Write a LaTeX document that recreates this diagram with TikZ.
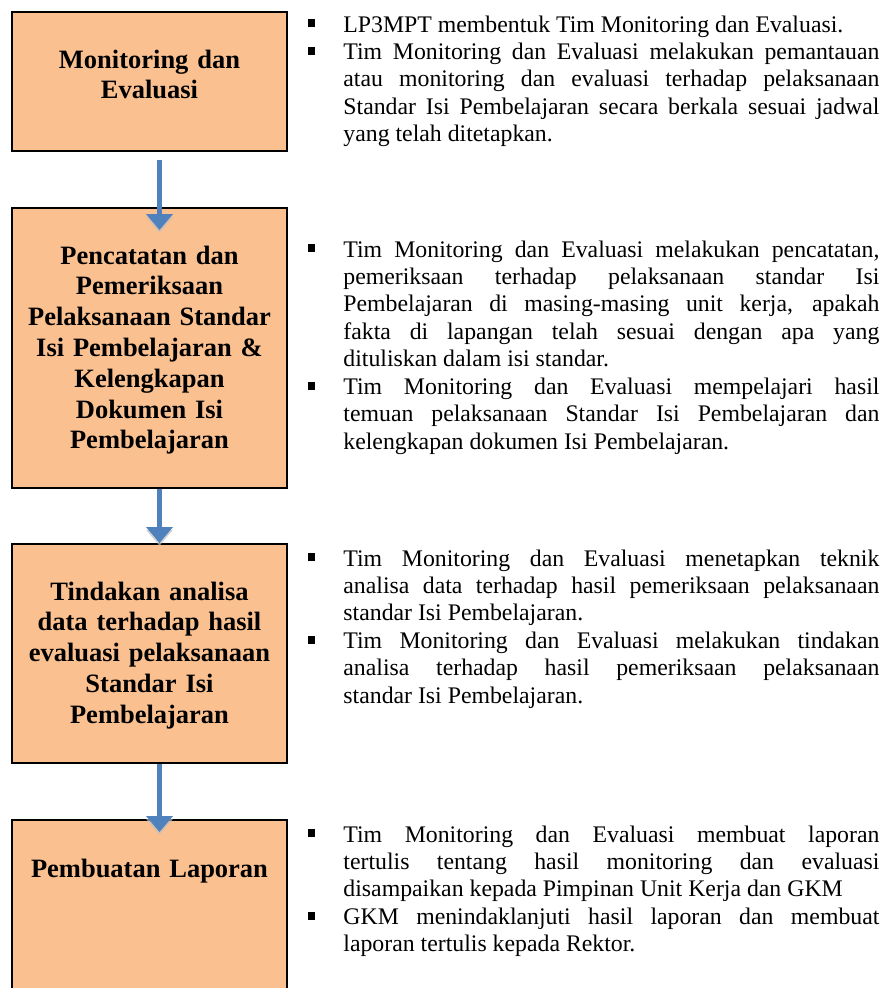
\documentclass[tikz,border=0pt]{standalone}
\usepackage{fontspec}
\setmainfont{Liberation Serif}
\usetikzlibrary{arrows.meta}
\definecolor{boxfill}{HTML}{FAC090}
\definecolor{arrowblue}{HTML}{4F81BD}
\newcommand\pxu{0.4625pt}
\newcommand\blt{\leavevmode\llap{\raise2.2pt\hbox{\vrule width3.6pt height3.6pt depth0pt}\hskip13pt\relax}}
\tikzset{
  stepbox/.style={draw, line width=1pt, fill=boxfill, minimum width=275*\pxu, inner sep=0pt, anchor=north},
  boxtext/.style={anchor=base, inner sep=0pt, text width=275*\pxu, font=\fontsize{12.25}{14.25}\selectfont\bfseries,
    execute at begin node={\centering}},
  desc/.style={anchor=base west, inner sep=0pt, text width=536*\pxu, align=justify,
    font=\fontsize{11}{12.7}\selectfont,
    execute at begin node={\hyphenpenalty=10000\relax\exhyphenpenalty=10000\relax\tolerance=10000\relax}},
  flow/.style={arrowblue, line width=5.5*\pxu, -{Triangle[width=12pt,length=7.4pt]}},
  flowshadow/.style={flow, draw=gray!50, opacity=0.7, transform canvas={yshift=-1.3pt}}
}
\begin{document}
\begin{tikzpicture}[x=\pxu, y=-\pxu]
	\clip (0,0) rectangle (889,988);
	% langkah
	\node[stepbox, minimum height=139*\pxu] (b1) at (149.5,11) {};
	\node[stepbox, minimum height=280*\pxu] (b2) at (149.5,207) {};
	\node[stepbox, minimum height=219*\pxu] (b3) at (149.5,543) {};
	\node[stepbox, minimum height=230*\pxu] (b4) at (149.5,819) {};
	\node[boxtext] (t1) at (149.5,68) {Monitoring dan\\Evaluasi};
	\node[boxtext] (t2) at (149.5,264) {Pencatatan dan\\Pemeriksaan\\Pelaksanaan Standar\\Isi Pembelajaran \&\\Kelengkapan\\Dokumen Isi\\Pembelajaran};
	\node[boxtext] (t3) at (149.5,600) {Tindakan analisa\\data terhadap hasil\\evaluasi pelaksanaan\\Standar Isi\\Pembelajaran};
	\node[boxtext] (t4) at (149.5,877) {Pembuatan Laporan};
	% panah (bayangan dulu)
	\draw[flowshadow] ([xshift=10*\pxu,yshift=-8*\pxu]b1.south) -- ([xshift=10*\pxu,yshift=-23*\pxu]b2.north);
	\draw[flow] ([xshift=10*\pxu,yshift=-8*\pxu]b1.south) -- ([xshift=10*\pxu,yshift=-23*\pxu]b2.north);
	\draw[flowshadow] ([xshift=10*\pxu]b2.south) -- ([xshift=10*\pxu]b3.north);
	\draw[flow] ([xshift=10*\pxu]b2.south) -- ([xshift=10*\pxu]b3.north);
	\draw[flowshadow] ([xshift=10*\pxu]b3.south) -- ([xshift=10*\pxu,yshift=-13*\pxu]b4.north);
	\draw[flow] ([xshift=10*\pxu]b3.south) -- ([xshift=10*\pxu,yshift=-13*\pxu]b4.north);
	% keterangan
	\node[desc] (d1) at (343,32) {\blt LP3MPT membentuk Tim Monitoring dan Evaluasi.\par
		\blt Tim Monitoring dan Evaluasi melakukan pemantauan\linebreak atau monitoring dan evaluasi terhadap pelaksanaan\linebreak Standar Isi Pembelajaran secara berkala sesuai jadwal\linebreak yang telah ditetapkan.};
	\node[desc] (d2) at (343,257) {\blt Tim Monitoring dan Evaluasi melakukan pencatatan,\linebreak pemeriksaan terhadap pelaksanaan standar Isi\linebreak Pembelajaran di masing-masing unit kerja, apakah\linebreak fakta di lapangan telah sesuai dengan apa yang\linebreak dituliskan dalam isi standar.\par
		\blt Tim Monitoring dan Evaluasi mempelajari hasil\linebreak temuan pelaksanaan Standar Isi Pembelajaran dan\linebreak kelengkapan dokumen Isi Pembelajaran.};
	\node[desc] (d3) at (343,566) {\blt Tim Monitoring dan Evaluasi menetapkan teknik\linebreak analisa data terhadap hasil pemeriksaan pelaksanaan\linebreak standar Isi Pembelajaran.\par
		\blt Tim Monitoring dan Evaluasi melakukan tindakan\linebreak analisa terhadap hasil pemeriksaan pelaksanaan\linebreak standar Isi Pembelajaran.};
	\node[desc] (d4) at (343,842) {\blt Tim Monitoring dan Evaluasi membuat laporan\linebreak tertulis tentang hasil monitoring dan evaluasi\linebreak disampaikan kepada Pimpinan Unit Kerja dan GKM\par
		\blt GKM menindaklanjuti hasil laporan dan membuat\linebreak laporan tertulis kepada Rektor.};
\end{tikzpicture}
\end{document}
